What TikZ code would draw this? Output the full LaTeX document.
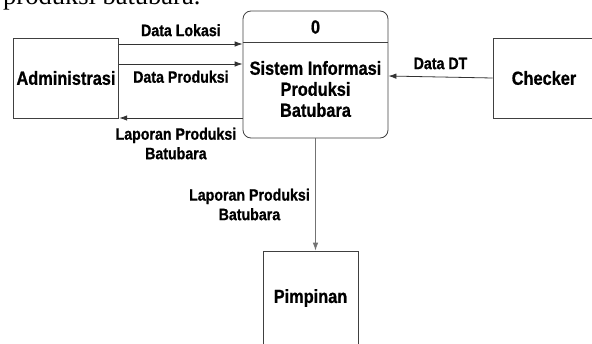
\documentclass[tikz,border=0pt]{standalone}
\usepackage{fontspec}
\setmainfont[FakeStretch=0.86, BoldFeatures={FakeBold=0.8}]{Liberation Sans}
\newfontfamily\pageserif{Liberation Serif}
\usetikzlibrary{arrows.meta,positioning}
\tikzset{
  entity/.style={draw=black!75, line width=0.8pt, font=\bfseries\fontsize{19}{21}\selectfont},
  proctext/.style={font=\bfseries\fontsize{19}{21}\selectfont, align=center},
  flow/.style={draw=black!80, line width=0.8pt, -{Latex[length=8pt,width=5.5pt]}},
  flowlabel/.style={font=\bfseries\fontsize{16.5}{19.5}\selectfont, align=center}
}
\begin{document}
\begin{tikzpicture}[x=1pt,y=-1pt]
\useasboundingbox (0,0) rectangle (592,343);
% text of the page above the figure
\node[font=\pageserif\fontsize{26.5}{30}\selectfont, anchor=base west, inner sep=0] (intro) at (3,4) {produksi batubara.};
% entities
\node[entity, minimum width=104pt, minimum height=80pt] (adm) at (66,78) {Administrasi};
\node[entity, minimum width=102pt, minimum height=80pt] (chk) at (544,78) {Checker};
\node[entity, minimum width=95pt, minimum height=94pt] (pim) at (310.5,298) {Pimpinan};
% process
\node[entity, rounded corners=8pt, minimum width=145pt, minimum height=127pt] (proc) at (315.5,74.5) {};
\draw[black!75, line width=0.8pt] (proc.west|-0,42) -- (proc.east|-0,42);
\node[proctext] (num) at (315.5,27) {0};
\node[proctext] (name) at (315.5,89) {Sistem Informasi\\Produksi\\Batubara};
% flows
\draw[flow] (adm.east|-0,44) -- node[flowlabel, above=4pt] {Data Lokasi} (proc.west|-0,44);
\draw[flow] (adm.east|-0,64) -- node[flowlabel, below=3pt] {Data Produksi} (proc.west|-0,64);
\draw[flow] (proc.west|-0,118) -- node[flowlabel, below=6pt, xshift=-5pt] {Laporan Produksi\\Batubara} (adm.east|-0,118);
\draw[flow] (chk.west) -- node[flowlabel, above=4pt] {Data DT} (proc.east|-0,76);
\draw[flow, draw=black!55] (proc.south) -- node[flowlabel, left=2pt, yshift=-10pt] {Laporan Produksi\\Batubara} (pim.north-|proc.south);
\end{tikzpicture}
\end{document}
